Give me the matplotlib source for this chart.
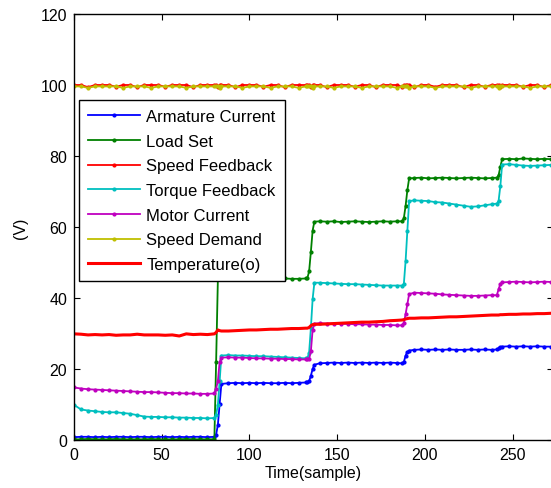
import numpy as np
import matplotlib
matplotlib.use("Agg")
import matplotlib.pyplot as plt

plt.rcParams['font.family'] = ['Liberation Sans', 'DejaVu Sans']

# sample positions (coarser on flat parts, every sample across the steps)
x_a = [0, 4, 8, 12, 16, 20, 24, 28, 32, 36, 40, 44, 48, 52, 56, 60, 64, 68, 72, 76, 80]
x_j1 = [81, 82, 83, 84]
x_b = [88, 92, 96, 100, 104, 108, 112, 116, 120, 124, 128, 132]
x_j2 = [133, 134, 135, 136, 137]
x_c = [140, 144, 148, 152, 156, 160, 164, 168, 172, 176, 180, 184]
x_j3 = [187, 188, 189, 190, 191]
x_d = [194, 198, 202, 206, 210, 214, 218, 222, 226, 230, 234, 238]
x_j4 = [241, 242, 243, 244]
x_e = [248, 252, 256, 260, 264, 268, 272]
samples = x_a + x_j1 + x_b + x_j2 + x_c + x_j3 + x_d + x_j4 + x_e

armature = ([0.8, 0.9, 0.9, 0.8, 0.9, 0.8, 0.9, 0.9, 0.8, 0.9, 0.9, 0.8, 0.9, 0.9, 0.8, 0.9, 0.8, 0.9, 0.9, 0.8, 0.9]
            + [1.5, 4.3, 10.1, 15.8]
            + [16.0, 16.1, 16.0, 16.1, 16.0, 16.1, 16.0, 16.0, 16.1, 16.0, 16.1, 16.2]
            + [16.2, 16.6, 18.1, 20.0, 21.2]
            + [21.6, 21.7, 21.8, 21.7, 21.8, 21.7, 21.8, 21.7, 21.8, 21.7, 21.8, 21.7]
            + [21.6, 22.0, 23.8, 24.8, 25.2]
            + [25.4, 25.5, 25.4, 25.5, 25.4, 25.5, 25.4, 25.4, 25.5, 25.4, 25.5, 25.4]
            + [25.5, 25.8, 26.2, 26.3]
            + [26.4, 26.3, 26.4, 26.3, 26.4, 26.3, 26.3])

load_set = ([0.2, 0.2, 0.3, 0.2, 0.2, 0.2, 0.3, 0.2, 0.2, 0.2, 0.2, 0.3, 0.2, 0.2, 0.2, 0.2, 0.3, 0.2, 0.2, 0.2, 0.2]
            + [22.0, 45.3, 45.4, 45.5]
            + [45.4, 45.5, 45.3, 45.4, 45.5, 45.4, 45.3, 45.4, 45.5, 45.4, 45.4, 45.5]
            + [45.6, 47.5, 53.0, 59.0, 61.5]
            + [61.6, 61.5, 61.6, 61.4, 61.5, 61.6, 61.5, 61.4, 61.5, 61.6, 61.5, 61.6]
            + [61.6, 62.5, 66.0, 70.4, 73.7]
            + [73.8, 73.9, 73.7, 73.8, 73.9, 73.8, 73.7, 73.8, 73.9, 73.8, 73.7, 73.8]
            + [73.9, 74.6, 77.0, 79.1]
            + [79.2, 79.1, 79.3, 79.2, 79.1, 79.2, 79.1])

speed_feedback = ([100.0, 100.0, 99.4, 100.0, 100.0, 100.0, 99.5, 100.0, 100.0, 99.4, 100.0, 100.0, 100.0, 99.5, 100.0, 100.0, 100.0, 99.4, 100.0, 100.0, 100.0]
                  + [100.0, 99.5, 100.0, 100.0]
                  + [100.0, 99.4, 100.0, 100.0, 100.0, 99.5, 100.0, 100.0, 99.4, 100.0, 100.0, 100.0]
                  + [100.0, 100.0, 99.5, 100.0, 100.0]
                  + [100.0, 99.4, 100.0, 100.0, 100.0, 99.5, 100.0, 100.0, 99.4, 100.0, 100.0, 100.0]
                  + [99.5, 100.0, 100.0, 100.0, 100.0]
                  + [99.4, 100.0, 100.0, 99.5, 100.0, 100.0, 100.0, 99.4, 100.0, 100.0, 99.5, 100.0]
                  + [100.0, 100.0, 99.4, 100.0]
                  + [100.0, 100.0, 99.5, 100.0, 100.0, 99.4, 100.0])

torque_feedback = ([9.9, 8.6, 8.3, 8.1, 7.9, 7.8, 7.8, 7.6, 7.4, 7.0, 6.6, 6.5, 6.5, 6.4, 6.4, 6.3, 6.3, 6.2, 6.2, 6.1, 6.2]
                   + [7.0, 10.0, 16.5, 23.8]
                   + [23.9, 23.8, 23.8, 23.7, 23.6, 23.6, 23.5, 23.4, 23.3, 23.2, 23.1, 23.0]
                   + [23.0, 24.6, 31.5, 39.7, 44.3]
                   + [44.3, 44.2, 44.1, 44.0, 43.9, 43.9, 43.8, 43.7, 43.6, 43.5, 43.5, 43.5]
                   + [43.5, 44.0, 50.5, 59.0, 67.3]
                   + [67.5, 67.4, 67.3, 67.0, 66.9, 66.6, 66.3, 66.0, 65.7, 65.8, 66.1, 66.4]
                   + [66.6, 67.4, 71.6, 77.6]
                   + [77.7, 77.5, 77.3, 77.2, 77.3, 77.4, 77.5])

motor_current = ([14.8, 14.5, 14.3, 14.2, 14.1, 14.0, 13.9, 13.8, 13.7, 13.6, 13.5, 13.5, 13.4, 13.3, 13.2, 13.2, 13.1, 13.1, 13.0, 13.0, 13.1]
                 + [14.5, 16.6, 22.0, 23.2]
                 + [23.3, 23.2, 23.2, 23.1, 23.0, 23.0, 22.9, 22.9, 22.8, 22.8, 22.7, 22.7]
                 + [22.7, 22.8, 25.0, 31.0, 32.8]
                 + [32.9, 32.8, 32.8, 32.7, 32.7, 32.6, 32.6, 32.5, 32.5, 32.4, 32.4, 32.3]
                 + [32.3, 33.0, 35.5, 38.3, 41.1]
                 + [41.5, 41.4, 41.3, 41.2, 41.0, 40.9, 40.8, 40.7, 40.6, 40.6, 40.7, 40.8]
                 + [40.8, 42.5, 44.0, 44.4]
                 + [44.5, 44.6, 44.5, 44.4, 44.5, 44.6, 44.5])

speed_demand = ([99.6, 99.6, 99.2, 99.6, 99.6, 99.6, 99.6, 99.2, 99.6, 99.6, 99.6, 99.2, 99.6, 99.6, 99.6, 99.6, 99.2, 99.6, 99.6, 99.6, 99.6]
                + [99.6, 99.6, 99.2, 99.6]
                + [99.6, 99.6, 99.2, 99.6, 99.6, 99.6, 99.2, 99.6, 99.6, 99.6, 99.2, 99.6]
                + [99.6, 99.6, 99.6, 99.2, 99.6]
                + [99.6, 99.6, 99.2, 99.6, 99.6, 99.6, 99.2, 99.6, 99.6, 99.6, 99.6, 99.2]
                + [99.6, 99.6, 99.6, 99.6, 99.2]
                + [99.6, 99.6, 99.6, 99.2, 99.6, 99.6, 99.6, 99.6, 99.2, 99.6, 99.6, 99.6]
                + [99.6, 99.2, 99.6, 99.6]
                + [99.6, 99.6, 99.6, 99.2, 99.6, 99.6, 99.6])

temperature = ([29.9, 29.8, 29.6, 29.7, 29.6, 29.7, 29.5, 29.6, 29.6, 29.8, 29.6, 29.6, 29.6, 29.5, 29.6, 29.3, 29.9, 29.7, 29.8, 29.7, 29.9]
               + [30.3, 31.0, 30.8, 30.7]
               + [30.7, 30.8, 30.9, 31.0, 31.0, 31.1, 31.2, 31.2, 31.3, 31.4, 31.4, 31.5]
               + [31.5, 31.7, 32.2, 32.5, 32.6]
               + [32.6, 32.7, 32.8, 32.9, 33.0, 33.1, 33.2, 33.2, 33.3, 33.4, 33.6, 33.7]
               + [33.8, 33.9, 34.1, 34.2, 34.3]
               + [34.3, 34.4, 34.4, 34.5, 34.6, 34.7, 34.7, 34.8, 34.9, 35.0, 35.1, 35.2]
               + [35.2, 35.2, 35.3, 35.3]
               + [35.4, 35.4, 35.5, 35.5, 35.6, 35.6, 35.7])

labels = ["Armature Current", "Load Set", "Speed Feedback", "Torque Feedback",
          "Motor Current", "Speed Demand", "Temperature(o)"]
x_ticks = [0, 50, 100, 150, 200, 250]
y_ticks = [0, 20, 40, 60, 80, 100, 120]


def main():
    fig = plt.figure(figsize=(5.51, 4.89), dpi=100)
    ax = fig.add_axes([74/551, 48/489, 479/551, 426/489])

    series = [armature, load_set, speed_feedback, torque_feedback, motor_current, speed_demand]
    colors = [(0, 0, 1), (0, 0.5, 0), (1, 0, 0), (0, 0.75, 0.75), (0.75, 0, 0.75), (0.75, 0.75, 0)]
    for vals, col, lab in zip(series, colors, labels[:6]):
        ax.plot(samples, vals, color=col, marker='.', markersize=4, linewidth=1.3, label=lab)
    ax.plot(samples, temperature, color=(1, 0, 0), linewidth=2.2, label=labels[6])

    ax.set_xlim(0, 273)
    ax.set_ylim(0, 120)
    ax.set_xticks(x_ticks)
    ax.set_yticks(y_ticks)
    ax.tick_params(direction='in', which='both', top=True, right=True, length=4,
                   labelsize=11.5, pad=5)
    for s in ax.spines.values():
        s.set_linewidth(1.0)
    ax.set_xlabel("Time(sample)", fontsize=11.5, labelpad=2)
    ax.set_ylabel("(V)", fontsize=11.5, labelpad=9)

    leg = ax.legend(loc='upper left', bbox_to_anchor=(79/551, 1 - 101/489),
                    bbox_transform=fig.transFigure, borderaxespad=0, fontsize=12,
                    fancybox=False, framealpha=1, edgecolor='k', numpoints=1,
                    handlelength=3.1, handletextpad=0.4, labelspacing=0.58,
                    borderpad=0.55)
    leg.get_frame().set_linewidth(1.0)

    fig.savefig("out.png", dpi=100)


if __name__ == "__main__":
    main()
